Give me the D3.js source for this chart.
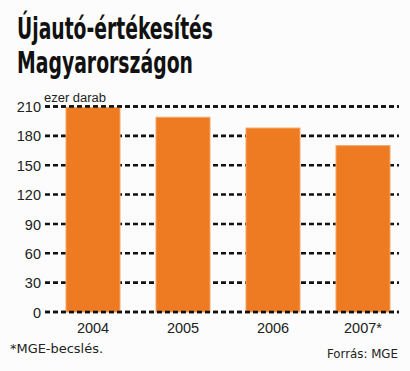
<!DOCTYPE html>
<html><head><meta charset="utf-8">
<script src="https://cdn.jsdelivr.net/npm/d3@7/dist/d3.min.js"></script>
<style>body{margin:0;background:#fbfcfb;}svg{display:block;}</style>
</head><body>
<script>
const categories = ["2004", "2005", "2006", "2007*"];
const values = [209, 199, 188, 170];
const yTicks = [0, 30, 60, 90, 120, 150, 180, 210];
const titleLines = ["Újautó-értékesítés", "Magyarországon"];
const unitLabel = "ezer darab";
const noteText = "*MGE-becslés.";
const sourceText = "Forrás: MGE";

const W = 410, H = 371;
const svg = d3.select("body").append("svg").attr("width", W).attr("height", H);
svg.append("rect").attr("width", W).attr("height", H).attr("fill", "#fbfcfb");

const x = d3.scaleBand().domain(categories).range([48, 408]).paddingInner(0.4).paddingOuter(0.2);
const y = d3.scaleLinear().domain([0, 210]).range([312, 106.5]);

// title
const tw = [196, 176];
svg.selectAll("text.title").data(titleLines).join("text")
  .attr("class", "title")
  .attr("x", 17).attr("y", (d, i) => 39 + i * 34)
  .attr("font-family", "'DejaVu Sans Condensed', 'Liberation Sans Narrow', 'DejaVu Sans'")
  .attr("font-weight", "bold").attr("font-stretch", "condensed")
  .attr("font-size", 30).attr("fill", "#111")
  .attr("textLength", (d, i) => tw[i]).attr("lengthAdjust", "spacingAndGlyphs")
  .text(d => d);

// grid lines
const grid = svg.append("g");
grid.selectAll("line").data(yTicks).join("line")
  .attr("x1", 45).attr("x2", 399)
  .attr("y1", d => y(d)).attr("y2", d => y(d))
  .attr("stroke", "#111").attr("stroke-width", 2.6)
  .attr("stroke-dasharray", "5,3");

// y axis labels
const yAxis = d3.axisLeft(y).tickValues(yTicks).tickSize(0).tickPadding(0);
const ya = svg.append("g").attr("transform", "translate(41,0)").call(yAxis);
ya.select(".domain").remove();
ya.selectAll("text").attr("font-family", "'Liberation Sans', Arial, sans-serif")
  .attr("font-size", 14.5).attr("fill", "#222").attr("dy", "0.35em");

// bars
svg.selectAll("rect.bar").data(values).join("rect")
  .attr("class", "bar")
  .attr("x", (d, i) => x(categories[i]))
  .attr("width", x.bandwidth())
  .attr("y", d => y(d))
  .attr("height", d => y(0) - y(d))
  .attr("fill", "#ee7a22").attr("stroke", "#f4a868").attr("stroke-width", 1);

// baseline & top line over bars
svg.append("g").selectAll("line").data([0, 210]).join("line")
  .attr("x1", 45).attr("x2", 399)
  .attr("y1", d => y(d)).attr("y2", d => y(d))
  .attr("stroke", "#111").attr("stroke-width", 2.6)
  .attr("stroke-dasharray", "5,3");

// x axis labels
const xAxis = d3.axisBottom(x).tickSize(0).tickPadding(0);
const xa = svg.append("g").attr("transform", "translate(0,333)").call(xAxis);
xa.select(".domain").remove();
xa.selectAll("text").attr("font-family", "'Liberation Sans', Arial, sans-serif")
  .attr("font-size", 14.5).attr("fill", "#222").attr("dy", "0");

// unit label
svg.append("text").attr("x", 44).attr("y", 102)
  .attr("font-family", "'Liberation Sans', sans-serif")
  .attr("font-size", 12).attr("fill", "#222")
  .attr("textLength", 62).attr("lengthAdjust", "spacingAndGlyphs").text(unitLabel);

// notes
svg.append("text").attr("x", 10).attr("y", 353)
  .attr("font-family", "'Liberation Sans Narrow', 'DejaVu Sans Condensed', sans-serif")
  .attr("font-size", 13).attr("fill", "#222")
  .attr("textLength", 93).attr("lengthAdjust", "spacingAndGlyphs").text(noteText);
svg.append("text").attr("x", 398).attr("y", 358).attr("text-anchor", "end")
  .attr("font-family", "'Liberation Sans Narrow', 'DejaVu Sans Condensed', sans-serif")
  .attr("font-size", 13).attr("fill", "#222")
  .attr("textLength", 71).attr("lengthAdjust", "spacingAndGlyphs").text(sourceText);
</script>
</body></html>
